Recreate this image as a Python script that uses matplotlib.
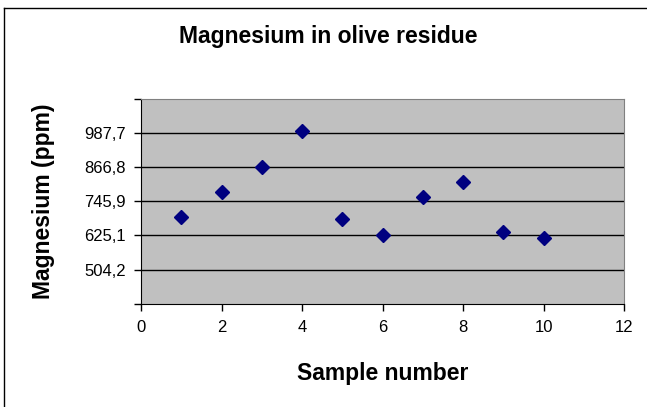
import matplotlib
matplotlib.use("Agg")
import matplotlib.pyplot as plt
from matplotlib.lines import Line2D

plt.rcParams['font.family'] = ['Liberation Sans', 'DejaVu Sans']

# sample data
sample = [1, 2, 3, 4, 5, 6, 7, 8, 9, 10]
magnesium = [691.4, 779.6, 866.3, 993.8, 684.2, 627.1, 760.3, 812.8, 635.3, 615.4]

# excel style axis ticks
y_ticks = [383.325, 504.2, 625.1, 745.9, 866.8, 987.7, 1108.575]
y_labels = ['', '504,2', '625,1', '745,9', '866,8', '987,7', '']
x_ticks = [0, 2, 4, 6, 8, 10, 12]

fig = plt.figure(figsize=(6.47, 4.07), dpi=100)
ax = fig.add_axes([0.218, 0.254, 0.7465, 0.503])

# frame of the chart area (only left and top are visible in the original)
fig.add_artist(Line2D([4 / 647, 4 / 647], [0, 1 - 8 / 407], color='black', lw=1))
fig.add_artist(Line2D([4 / 647, 1], [1 - 8 / 407, 1 - 8 / 407], color='black', lw=1))

ax.set_facecolor('#C0C0C0')
for y in y_ticks[1:-1]:
    ax.axhline(y, color='black', lw=1, zorder=1)

ax.plot(sample, magnesium, linestyle='none', marker='D', markersize=7,
        color='#000080', zorder=3)

ax.set_xlim(0, 12)
ax.set_ylim(y_ticks[0], y_ticks[-1])
ax.set_xticks(x_ticks)
ax.set_yticks(y_ticks)
ax.set_yticklabels(y_labels)
ax.tick_params(axis='both', direction='out', length=5, width=1, labelsize=12,
               colors='black')
ax.tick_params(axis='x', pad=7)
ax.tick_params(axis='y', pad=6)

ax.spines['left'].set_color('black')
ax.spines['bottom'].set_color('black')
ax.spines['top'].set_color('#808080')
ax.spines['right'].set_color('#808080')

fig.text(0.508, 1 - 37 / 407, 'Magnesium in olive residue', ha='center', va='center',
         fontsize=16.5, fontweight='bold')
ax.set_xlabel('Sample number', fontsize=16.5, fontweight='bold', labelpad=19)
ax.set_ylabel('Magnesium (ppm)', fontsize=16.5, fontweight='bold', labelpad=21)

fig.savefig('out.png', dpi=100)
